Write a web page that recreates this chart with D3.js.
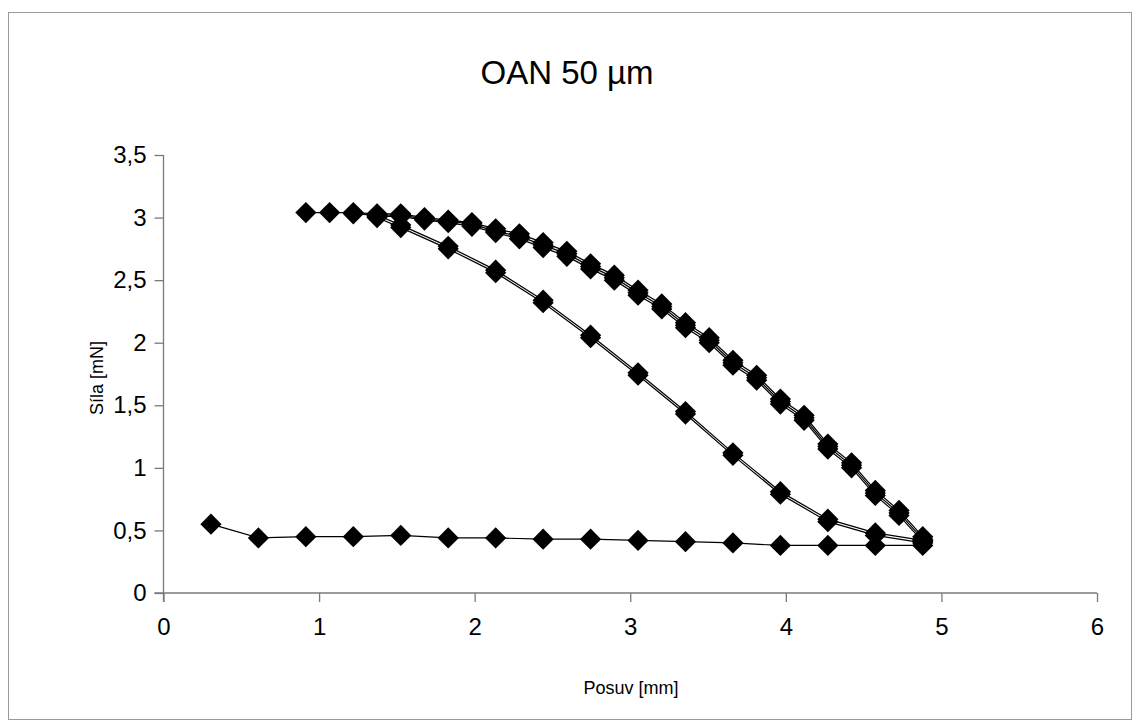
<!DOCTYPE html>
<html>
<head>
<meta charset="utf-8">
<script src="https://cdn.jsdelivr.net/npm/d3@7"></script>
<style>
  html, body { margin: 0; padding: 0; background: #fff; }
  svg { display: block; font-family: "Liberation Sans", Arial, sans-serif; }
</style>
</head>
<body>
<svg id="chart" width="1139" height="727"></svg>
<script>
// ---- data ----
const title = "OAN 50 µm";
const xTitle = "Posuv [mm]";
const yTitle = "Síla [mN]";
const xTickValues = [0, 1, 2, 3, 4, 5, 6];
const xTickLabels = ["0", "1", "2", "3", "4", "5", "6"];
const yTickValues = [0, 0.5, 1, 1.5, 2, 2.5, 3, 3.5];
const yTickLabels = ["0", "0,5", "1", "1,5", "2", "2,5", "3", "3,5"];

// approach (bottom line)
const bottomX = [0.305, 0.61, 0.915, 1.22, 1.525, 1.83, 2.135, 2.44, 2.745, 3.05, 3.355, 3.66, 3.965, 4.27, 4.575, 4.88];
const bottomY = [0.55, 0.44, 0.45, 0.45, 0.46, 0.44, 0.44, 0.43, 0.43, 0.42, 0.41, 0.40, 0.38, 0.38, 0.38, 0.38];

// upper curve (three cycles)
const upperX = [0.915, 1.0675, 1.22, 1.3725, 1.525, 1.6775, 1.83, 1.9825, 2.135, 2.2875, 2.44, 2.5925, 2.745, 2.8975,
                3.05, 3.2025, 3.355, 3.5075, 3.66, 3.8125, 3.965, 4.1175, 4.27, 4.4225, 4.575, 4.7275, 4.88];
const upper1 = [3.04, 3.04, 3.04, 3.03, 3.03, 3.00, 2.98, 2.96, 2.91, 2.87, 2.80, 2.73, 2.63, 2.54,
                2.42, 2.31, 2.16, 2.04, 1.86, 1.74, 1.55, 1.42, 1.19, 1.04, 0.82, 0.66, 0.45];
const upper2 = [null, null, 3.03, 3.02, 3.02, 2.99, 2.97, 2.95, 2.89, 2.85, 2.78, 2.71, 2.61, 2.52,
                2.40, 2.29, 2.14, 2.02, 1.84, 1.72, 1.53, 1.40, 1.17, 1.02, 0.80, 0.64, 0.43];
const upper3 = [null, null, null, 3.01, 3.01, 2.98, 2.96, 2.93, 2.88, 2.83, 2.76, 2.69, 2.59, 2.50,
                2.38, 2.27, 2.12, 2.00, 1.82, 1.70, 1.51, 1.38, 1.15, 1.00, 0.78, 0.62, 0.41];

// inner (return) curve (two cycles)
const innerX = [1.3725, 1.525, 1.83, 2.135, 2.44, 2.745, 3.05, 3.355, 3.66, 3.965, 4.27, 4.575, 4.88];
const inner1 = [3.02, 2.94, 2.77, 2.58, 2.34, 2.06, 1.76, 1.45, 1.12, 0.81, 0.59, 0.48, 0.42];
const inner2 = [3.00, 2.92, 2.75, 2.56, 2.32, 2.04, 1.74, 1.43, 1.10, 0.79, 0.57, 0.46, 0.40];

// ---- build series ----
function zipSeries(xs, ys) { return xs.map((x, i) => ({ x: x, y: ys[i] })); }
const series = [
  zipSeries(bottomX, bottomY),
  zipSeries(upperX, upper1),
  zipSeries(upperX, upper2),
  zipSeries(upperX, upper3),
  zipSeries(innerX, inner1),
  zipSeries(innerX, inner2)
];

// ---- layout ----
const svg = d3.select("#chart");
const W = 1139, H = 727;
const plot = { left: 163.5, right: 1097, top: 155, bottom: 593 };

svg.append("rect").attr("x", 0).attr("y", 0).attr("width", W).attr("height", H).attr("fill", "#fff");
svg.append("rect").attr("x", 8.5).attr("y", 12.5).attr("width", 1123).attr("height", 707)
  .attr("fill", "none").attr("stroke", "#9a9a9a").attr("stroke-width", 1);

const x = d3.scaleLinear().domain([0, 6]).range([plot.left, plot.right]);
const y = d3.scaleLinear().domain([0, 3.5]).range([plot.bottom, plot.top]);

// axes
const xAxis = d3.axisBottom(x).tickValues(xTickValues)
  .tickFormat((d, i) => xTickLabels[i]).tickSizeInner(9).tickSizeOuter(0).tickPadding(16);
const yAxis = d3.axisLeft(y).tickValues(yTickValues)
  .tickFormat((d, i) => yTickLabels[i]).tickSizeInner(9).tickSizeOuter(0).tickPadding(8);

const gx = svg.append("g").attr("transform", `translate(0,${plot.bottom})`).call(xAxis);
const gy = svg.append("g").attr("transform", `translate(${plot.left},0)`).call(yAxis);
[gx, gy].forEach(g => {
  g.select(".domain").attr("stroke", "#7a7a7a").attr("stroke-width", 1.3);
  g.selectAll(".tick line").attr("stroke", "#7a7a7a").attr("stroke-width", 1.3);
  g.selectAll(".tick text").attr("fill", "#000").attr("font-size", 24)
    .attr("font-family", "'Liberation Sans', Arial, sans-serif");
});
// extend axis lines through the outer tick like Excel
gy.select(".domain").attr("d", `M0,${plot.top}V${plot.bottom + 9}`);
gx.select(".domain").attr("d", `M${plot.left - 9},0H${plot.right}`);

// lines
const line = d3.line().defined(d => d.y !== null).x(d => x(d.x)).y(d => y(d.y));
svg.append("g").selectAll("path").data(series).join("path")
  .attr("d", s => line(s))
  .attr("fill", "none").attr("stroke", "#000").attr("stroke-width", 1.2);

// markers
const diamond = d3.symbol().type(d3.symbolSquare).size(225);
const markerG = svg.append("g");
series.forEach(s => {
  markerG.selectAll(null).data(s.filter(d => d.y !== null)).join("path")
    .attr("d", diamond)
    .attr("transform", d => `translate(${x(d.x)},${y(d.y)}) rotate(45)`)
    .attr("fill", "#000");
});

// titles
svg.append("text").attr("x", 567).attr("y", 84).attr("text-anchor", "middle")
  .attr("font-size", 33).attr("fill", "#000").text(title);
svg.append("text").attr("x", 631).attr("y", 694).attr("text-anchor", "middle")
  .attr("font-size", 18).attr("fill", "#000").text(xTitle);
svg.append("text").attr("transform", "translate(103,378) rotate(-90)").attr("text-anchor", "middle")
  .attr("font-size", 18).attr("fill", "#000").text(yTitle);
</script>
</body>
</html>
